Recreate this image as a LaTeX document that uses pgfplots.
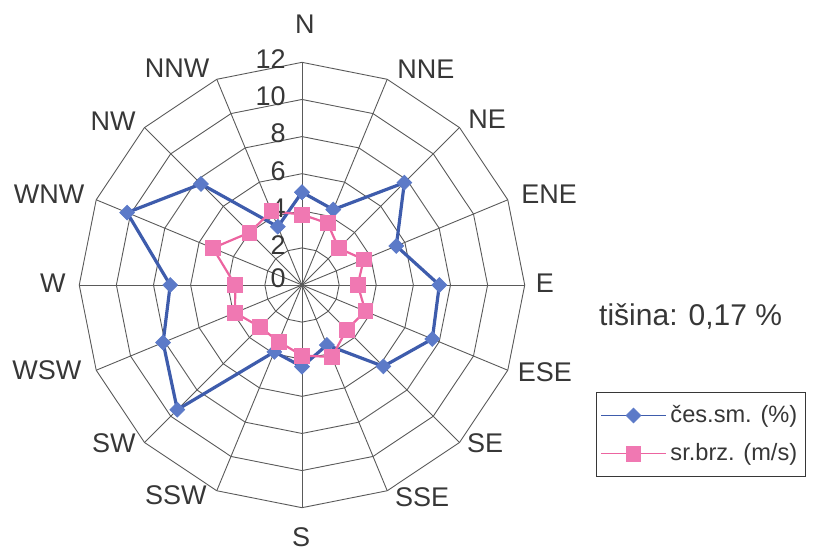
\documentclass[border=0pt]{standalone}
\usepackage{fontspec}
\setmainfont{Liberation Sans}
\usepackage{pgfplots}
\pgfplotsset{compat=1.18}
\definecolor{blueline}{RGB}{62,92,172}
\definecolor{bluefill}{RGB}{92,122,200}
\definecolor{pinkline}{RGB}{236,100,160}
\definecolor{pinkfill}{RGB}{240,120,178}
\definecolor{gridc}{RGB}{90,90,90}
\definecolor{txt}{RGB}{55,55,55}
\tikzset{lab/.style={inner sep=0pt, text=txt, font=\fontsize{13.5}{15}\selectfont}}
\begin{document}
\begin{tikzpicture}
\begin{axis}[
  scale only axis, width=409pt, height=275pt,
  xmin=-16.27, xmax=27.80, ymin=-14.28, ymax=15.36,
  hide axis, clip=false,
  legend style={at={(0.7286,0.2873)}, anchor=north west, draw=txt, line width=0.4pt,
    font=\fontsize{11.8}{13}\selectfont, text=txt, inner xsep=2pt, inner ysep=4.5pt,
    row sep=5pt, cells={anchor=west}},
  legend image code/.code={\draw[mark repeat=2,mark phase=2,#1,line width=0.6pt] plot coordinates {(0cm,0cm) (0.57cm,0cm) (1.14cm,0cm)};},
]
\pgfplotsinvokeforeach{2,4,6,8,10,12}{
 \addplot[gridc, line width=0.45pt, forget plot, data cs=polar] coordinates {(90,#1) (67.5,#1) (45,#1) (22.5,#1) (0,#1) (-22.5,#1) (-45,#1) (-67.5,#1) (-90,#1) (-112.5,#1) (-135,#1) (-157.5,#1) (180,#1) (157.5,#1) (135,#1) (112.5,#1) (90,#1) (67.5,#1)};
}
\pgfplotsinvokeforeach{90,67.5,45,22.5,0,-22.5,-45,-67.5,-90,-112.5,-135,-157.5,180,157.5,135,112.5}{
 \addplot[gridc, line width=0.45pt, forget plot, data cs=polar] coordinates {(#1,0) (#1,12)};
}
% cestost smeru (%)
\addplot[blueline, line width=1.6pt, mark=square*, mark size=2.6pt,
  mark options={rotate=45, fill=bluefill, draw=bluefill, line width=0.4pt}, data cs=polar]
  coordinates {(90,5.0) (67.5,4.4) (45,7.8) (22.5,5.5) (0,7.4) (-22.5,7.6) (-45,6.2) (-67.5,3.5)
  (-90,4.4) (-112.5,3.9) (-135,9.5) (-157.5,8.1) (180,7.1) (157.5,10.2) (135,7.7) (112.5,3.4) (90,5.0)};
\addlegendentry{čes.sm. (\%)}
% srednja brzina (m/s)
\addplot[pinkline, line width=1.1pt, mark=square*, mark size=3.7pt,
  mark options={fill=pinkfill, draw=pinkfill, line width=0.4pt}, data cs=polar]
  coordinates {(90,3.8) (67.5,3.6) (45,2.8) (22.5,3.6) (0,3.0) (-22.5,3.7) (-45,3.4) (-67.5,4.2)
  (-90,3.8) (-112.5,3.3) (-135,3.2) (-157.5,3.9) (180,3.6) (157.5,5.2) (135,4.0) (112.5,4.3) (90,3.8)};
\addlegendentry{sr.brz. (m/s)}
% direction labels
\node[lab] at (axis cs:0.15,14.05) {N};
\node[lab] at (axis cs:6.68,11.64) {NNE};
\node[lab] at (axis cs:9.97,8.94) {NE};
\node[lab] at (axis cs:13.31,4.90) {ENE};
\node[lab] at (axis cs:13.09,0.11) {E};
\node[lab] at (axis cs:13.09,-4.69) {ESE};
\node[lab] at (axis cs:9.86,-8.51) {SE};
\node[lab] at (axis cs:6.47,-11.42) {SSE};
\node[lab] at (axis cs:-0.05,-13.58) {S};
\node[lab] at (axis cs:-6.79,-11.31) {SSW};
\node[lab] at (axis cs:-10.13,-8.51) {SW};
\node[lab] at (axis cs:-13.74,-4.58) {WSW};
\node[lab] at (axis cs:-13.42,0.11) {W};
\node[lab] at (axis cs:-13.63,4.90) {WNW};
\node[lab] at (axis cs:-10.18,8.84) {NW};
\node[lab] at (axis cs:-6.73,11.69) {NNW};
% radial tick labels
\node[lab, anchor=east] at (axis cs:-0.86,0.38) {0};
\node[lab, anchor=east] at (axis cs:-0.86,2.16) {2};
\node[lab, anchor=east] at (axis cs:-0.86,4.16) {4};
\node[lab, anchor=east] at (axis cs:-0.86,6.16) {6};
\node[lab, anchor=east] at (axis cs:-0.86,8.16) {8};
\node[lab, anchor=east] at (axis cs:-0.86,10.16) {10};
\node[lab, anchor=east] at (axis cs:-0.86,12.16) {12};
\node[lab, font=\fontsize{15}{17}\selectfont] at (axis cs:20.94,-1.71) {tišina: 0,17 \%};
\end{axis}
\path (current axis.south west) rectangle (current axis.north east);
\end{tikzpicture}
\end{document}
